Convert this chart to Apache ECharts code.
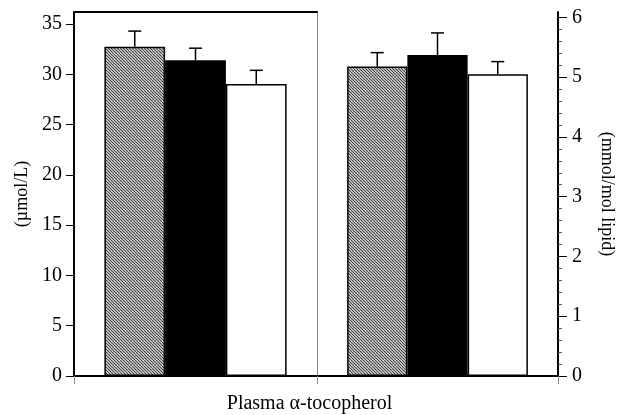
<!DOCTYPE html>
<html>
<head>
<meta charset="utf-8">
<script src="https://cdn.jsdelivr.net/npm/echarts@6/dist/echarts.min.js"></script>
<style>
html,body{margin:0;padding:0;background:#fff;}
#chart{width:619px;height:415px;}
</style>
</head>
<body>
<div id="chart"></div>
<script>
// ---- data ----
const categories = ['µmol/L', 'mmol/mol lipid'];
const seriesNames = ['Group A', 'Group B', 'Group C'];
// left panel (µmol/L), one value per series
const leftValues = [32.75, 31.4, 29.05];
const leftErrTop = [34.3, 32.6, 30.4];
// right panel (mmol/mol lipid)
const rightValues = [5.18, 5.37, 5.05];
const rightErrTop = [5.41, 5.74, 5.26];
const leftTicks = [0, 5, 10, 15, 20, 25, 30, 35];
const rightTicks = [0, 1, 2, 3, 4, 5, 6];
const xTitle = 'Plasma α-tocopherol';
const leftName = '(µmol/L)';
const rightName = '(mmol/mol lipid)';

// ---- hatch pattern ----
function makeHatch() {
  const c = document.createElement('canvas');
  c.width = 6; c.height = 6;
  const g = c.getContext('2d');
  g.fillStyle = '#ececec';
  g.fillRect(0, 0, 6, 6);
  g.strokeStyle = '#3a3a3a';
  g.lineWidth = 1.1;
  for (let k = -6; k <= 6; k += 3) {
    g.beginPath();
    g.moveTo(k, 0);
    g.lineTo(k + 6, 6);
    g.stroke();
  }
  return c;
}
const hatch = { image: makeHatch(), repeat: 'repeat' };
const fills = [hatch, '#000000', '#ffffff'];

const FONT = 'Liberation Serif';
const chart = echarts.init(document.getElementById('chart'), null, { renderer: 'canvas' });

function barSeries(gi, values) {
  return values.map((v, i) => ({
    type: 'bar',
    name: seriesNames[i],
    xAxisIndex: gi,
    yAxisIndex: gi,
    data: [v],
    barGap: '0%',
    barCategoryGap: '25%',
    itemStyle: { color: fills[i], borderColor: '#000', borderWidth: 1.5 },
    silent: true,
    animation: false
  }));
}

function errSeries(gi, values, tops) {
  return {
    type: 'custom',
    xAxisIndex: gi,
    yAxisIndex: gi,
    z: 10,
    silent: true,
    animation: false,
    encode: { x: 0, y: 2 },
    data: values.map((v, i) => [0, i, v, tops[i]]),
    renderItem: function (params, api) {
      const base = api.coord([api.value(0), api.value(2)]);
      const topP = api.coord([api.value(0), api.value(3)]);
      const band = api.size([1, 0])[0];
      const bw = band * 0.25;
      const x = base[0] + (api.value(1) - 1) * bw;
      const style = { stroke: '#000', lineWidth: 1.5 };
      return {
        type: 'group',
        children: [
          { type: 'line', shape: { x1: x, y1: base[1], x2: x, y2: topP[1] }, style: style },
          { type: 'line', shape: { x1: x - 6.5, y1: topP[1], x2: x + 6.5, y2: topP[1] }, style: style }
        ]
      };
    }
  };
}

const blackLine = { show: true, lineStyle: { color: '#000', width: 2 } };
const tickLabelStyle = { fontFamily: FONT, fontSize: 20, color: '#000' };

function catAxis(gi, pos) {
  const bottom = pos === 'bottom';
  return {
    type: 'category',
    gridIndex: gi,
    position: pos,
    data: [categories[gi]],
    axisLine: blackLine,
    axisTick: { show: bottom, length: 8, lineStyle: { color: '#888', width: 1 } },
    axisLabel: { show: false },
    splitLine: { show: false }
  };
}

const option = {
  backgroundColor: '#fff',
  animation: false,
  title: {
    text: xTitle,
    left: 'center',
    bottom: -4,
    textStyle: { fontFamily: FONT, fontSize: 20, fontWeight: 'normal', color: '#000' }
  },
  grid: [
    { left: 74, width: 243, top: 12, bottom: 39 },
    { left: 317, right: 61, top: 12, bottom: 39 }
  ],
  xAxis: [catAxis(0, 'bottom'), catAxis(1, 'bottom'), catAxis(0, 'top'), catAxis(1, 'top')],
  yAxis: [
    {
      type: 'value', gridIndex: 0, position: 'left',
      min: 0, max: 36.2, interval: 5,
      name: leftName, nameLocation: 'middle', nameRotate: 90, nameGap: 43,
      nameTextStyle: { fontFamily: FONT, fontSize: 18, color: '#000' },
      axisLine: blackLine,
      axisTick: { show: true, length: 8, lineStyle: { color: '#000', width: 1 },
                  customValues: leftTicks },
      axisLabel: Object.assign({ margin: 12, customValues: leftTicks }, tickLabelStyle),
      splitLine: { show: false }
    },
    {
      type: 'value', gridIndex: 1, position: 'right',
      min: 0, max: 6.09, interval: 1,
      name: rightName, nameLocation: 'middle', nameRotate: -90, nameGap: 40,
      nameTextStyle: { fontFamily: FONT, fontSize: 18, color: '#000' },
      axisLine: blackLine,
      axisTick: { show: true, length: 9, lineStyle: { color: '#000', width: 1 },
                  customValues: rightTicks },
      minorTick: { show: true, splitNumber: 5, length: 4, lineStyle: { color: '#555', width: 1 } },
      axisLabel: Object.assign({ margin: 14, customValues: rightTicks }, tickLabelStyle),
      splitLine: { show: false }
    },
    {
      type: 'value', gridIndex: 1, position: 'left',
      min: 0, max: 6.09, interval: 1,
      axisLine: { show: true, lineStyle: { color: '#888', width: 1 } },
      axisTick: { show: false },
      axisLabel: { show: false },
      splitLine: { show: false }
    }
  ],
  series: [].concat(
    barSeries(0, leftValues),
    barSeries(1, rightValues),
    [errSeries(0, leftValues, leftErrTop), errSeries(1, rightValues, rightErrTop)]
  )
};
chart.setOption(option);
</script>
</body>
</html>
